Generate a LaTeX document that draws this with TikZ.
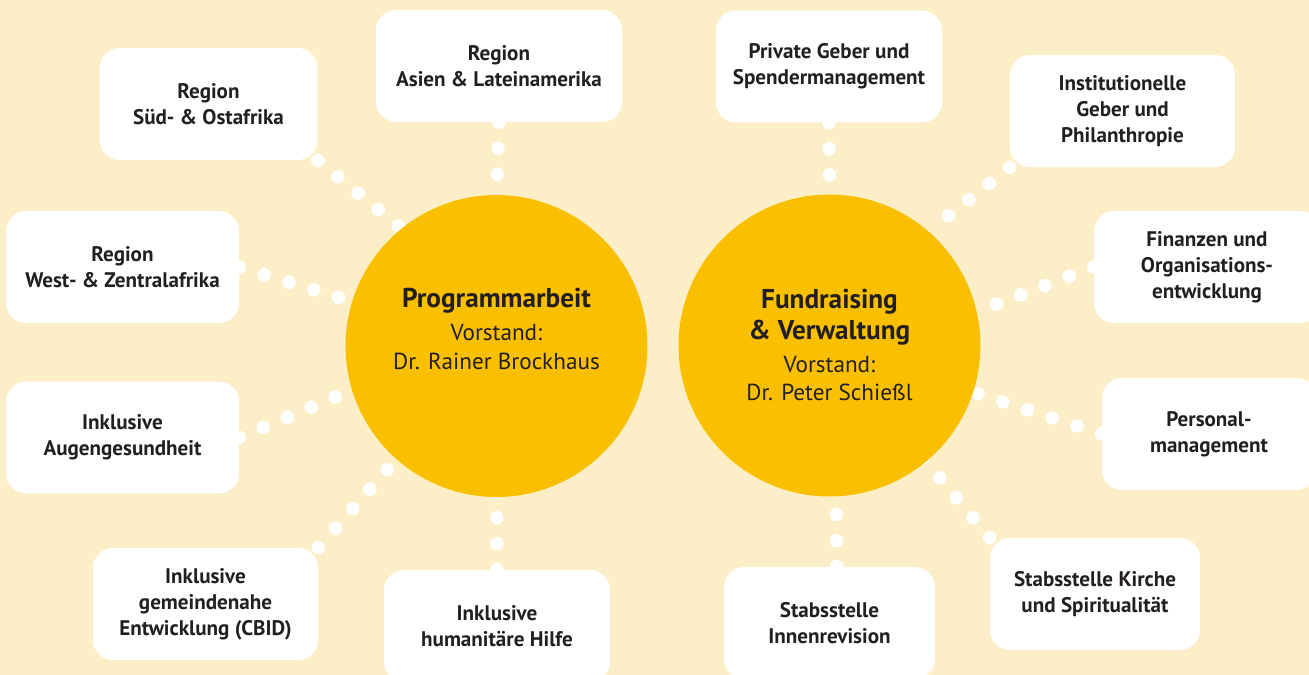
\documentclass[tikz,border=0pt]{standalone}
\usepackage{fontspec}
\setmainfont{PT Sans}
\definecolor{hintergrund}{HTML}{FCEFC8}
\definecolor{gelb}{HTML}{FAC000}
\definecolor{schrift}{HTML}{231F20}
\pgfdeclarelayer{hinten}
\pgfdeclarelayer{linien}
\pgfsetlayers{hinten,linien,main}
\begin{document}
\begin{tikzpicture}[x=0.02cm,y=-0.02cm,
	kasten/.style={fill=white,rounded corners=0.4cm,align=center,text=schrift,inner sep=0pt,
		minimum height=2.24cm,font=\fontsize{12}{14.7}\selectfont\bfseries},
	kreis/.style={circle,fill=gelb,minimum size=6.04cm,inner sep=0pt},
	titel/.style={align=center,text=schrift,inner sep=0pt,font=\fontsize{13.2}{16.2}\selectfont},
	punkte/.style={white,line width=0.27cm,line cap=round,dash pattern=on 0pt off 0.52cm}]
	% Hintergrund
	\begin{pgfonlayer}{hinten}
		\fill[hintergrund] (0,0) rectangle (1309,675);
	\end{pgfonlayer}
	\useasboundingbox (0,0) rectangle (1309,675);
	% Kreise
	\node[kreis] (c1) at (496.5,346) {};
	\node[kreis] (c2) at (829.5,345.5) {};
	\node[titel] (t1) at (496.5,329) {{\fontsize{15.5}{18}\selectfont\bfseries Programmarbeit}\\[2.4pt]
		Vorstand:\\ Dr. Rainer Brockhaus};
	\node[titel] (t2) at (829.5,345) {{\fontsize{15.5}{18}\selectfont\bfseries Fundraising}\\[1.4pt]
		{\fontsize{15.5}{18}\selectfont\bfseries \& Verwaltung}\\[2.5pt] Vorstand:\\ Dr. Peter Schießl};
	% Bereiche links
	\node[kasten,minimum width=4.36cm] (sued) at (208.5,104) {Region\\Süd- \& Ostafrika};
	\node[kasten,minimum width=4.92cm] (asien) at (499,66) {Region\\Asien \& Lateinamerika};
	\node[kasten,minimum width=4.66cm] (west) at (122.5,267) {Region\\West- \& Zentralafrika};
	\node[kasten,minimum width=4.66cm] (auge) at (122.5,437.5) {Inklusive\\Augengesundheit};
	\node[kasten,minimum width=4.5cm] (cbid) at (205.5,604) {Inklusive\\gemeindenahe\\Entwicklung (CBID)};
	\node[kasten,minimum width=4.52cm] (hilfe) at (497,626) {Inklusive\\humanitäre Hilfe};
	% Bereiche rechts
	\node[kasten,minimum width=4.52cm] (spender) at (829,66.5) {Private Geber und\\Spendermanagement};
	\node[kasten,minimum width=4.5cm] (inst) at (1122.5,111) {Institutionelle\\Geber und\\Philanthropie};
	\node[kasten,minimum width=4.52cm] (finanzen) at (1207,267) {Finanzen und\\Organisations-\\entwicklung};
	\node[kasten,minimum width=4.28cm] (personal) at (1209,434) {Personal-\\management};
	\node[kasten,minimum width=4.2cm] (kirche) at (1095,594) {Stabsstelle Kirche\\und Spiritualität};
	\node[kasten,minimum width=4.22cm] (revision) at (829.5,623) {Stabsstelle\\Innenrevision};
	% Punktlinien
	\begin{pgfonlayer}{linien}
		\draw[punkte] (sued.south east) -- (c1.129);
		\draw[punkte] (asien.south) -- (c1.north);
		\draw[punkte] (west.east) -- (c1.center);
		\draw[punkte] (auge.east) -- (c1.197);
		\draw[punkte] (cbid.north east) -- (c1.center);
		\draw[punkte] (hilfe.north) -- (c1.south);
		\draw[punkte] (spender.south) -- (c2.north);
		\draw[punkte] (inst.south west) -- (c2.49);
		\draw[punkte] (finanzen.west) -- (c2.13);
		\draw[punkte] (personal.west) -- (c2.center);
		\draw[punkte] (kirche.north west) -- (c2.center);
		\draw[punkte] ([xshift=0.14cm]revision.north) -- ([xshift=0.14cm]c2.south);
	\end{pgfonlayer}
\end{tikzpicture}
\end{document}
